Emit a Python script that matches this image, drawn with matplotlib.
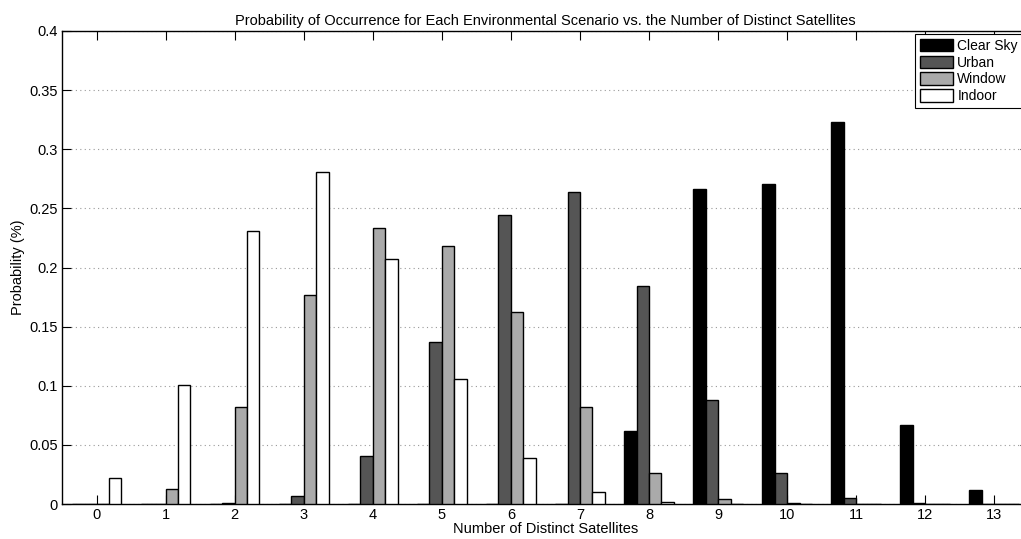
import numpy as np
import matplotlib
matplotlib.use("Agg")
import matplotlib.pyplot as plt

plt.rcParams["font.family"] = ["Liberation Sans", "DejaVu Sans"]

sats = np.arange(14)
scenarios = ["Clear Sky", "Urban", "Window", "Indoor"]
clear_sky = [0, 0, 0, 0, 0, 0, 0, 0, 0.062, 0.266, 0.271, 0.323, 0.067, 0.012]
urban = [0, 0, 0.001, 0.007, 0.041, 0.137, 0.244, 0.264, 0.184, 0.088, 0.026, 0.005, 0.0005, 0]
window = [0, 0.013, 0.082, 0.177, 0.233, 0.218, 0.162, 0.082, 0.026, 0.004, 0.0005, 0, 0, 0]
indoor = [0.022, 0.101, 0.231, 0.281, 0.207, 0.106, 0.039, 0.010, 0.0015, 0.0003, 0, 0, 0, 0]
colors = ["#000000", "#555555", "#aaaaaa", "#ffffff"]

fig = plt.figure(figsize=(10.21, 5.39), dpi=100)
ax = fig.add_axes([0.0607, 0.0649, 0.947, 0.8776])

width = 0.18
offsets = [-0.27, -0.09, 0.09, 0.27]
for vals, name, c, off in zip([clear_sky, urban, window, indoor], scenarios, colors, offsets):
    ax.bar(sats + off, vals, width=width, color=c, edgecolor="black",
           linewidth=1.0, label=name, zorder=3)

ax.set_xlim(-0.5, 13.5)
ax.set_ylim(0, 0.4)
ax.set_xticks(sats)
ax.set_yticks(np.arange(0, 0.41, 0.05))
ax.set_yticklabels(["0", "0.05", "0.1", "0.15", "0.2", "0.25", "0.3", "0.35", "0.4"])
ax.tick_params(direction="in", top=True, right=True, labelsize=10.5, length=6.5, width=0.8, pad=3)
ax.yaxis.grid(True, linestyle=(0, (1, 3)), color="#999999", linewidth=0.8)
ax.set_axisbelow(True)
for sp in ax.spines.values():
    sp.set_linewidth(1.0)

ax.set_xlabel("Number of Distinct Satellites", fontsize=10.5, labelpad=0)
ax.set_ylabel("Probability (%)", fontsize=10.5, labelpad=3)
ax.set_title("Probability of Occurrence for Each Environmental Scenario vs. the Number of Distinct Satellites",
             fontsize=10.5, pad=4)

leg = ax.legend(loc="upper left", bbox_to_anchor=(915 / 1021, 1 - 34 / 539),
                bbox_transform=fig.transFigure, fontsize=10, frameon=True,
                fancybox=False, framealpha=1, edgecolor="black",
                handlelength=2.4, handleheight=1.0, labelspacing=0.2,
                handletextpad=0.3, borderpad=0.35, borderaxespad=0)
leg.get_frame().set_linewidth(0.8)

fig.savefig("out.png", dpi=100)
